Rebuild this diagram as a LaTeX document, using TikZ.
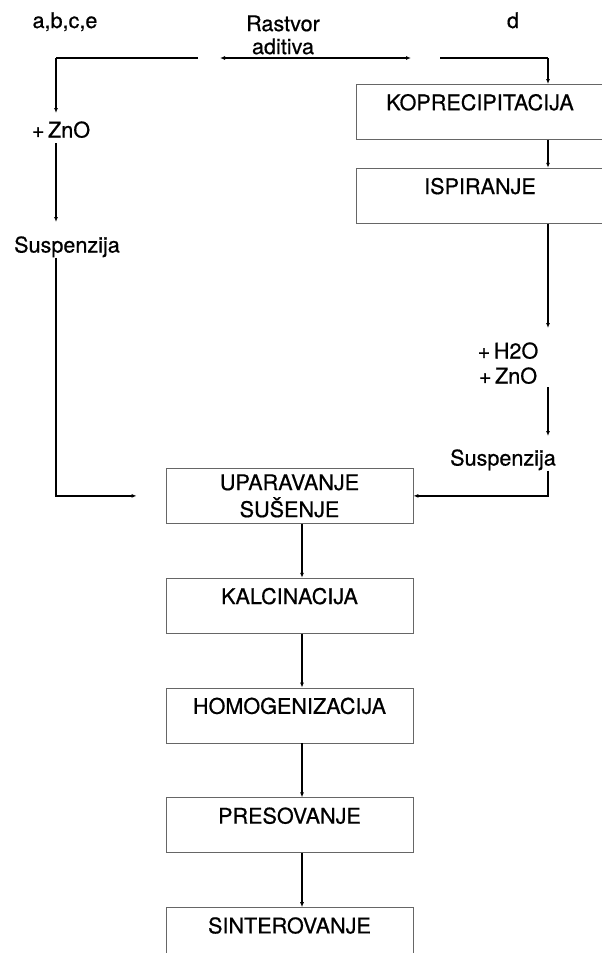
\documentclass[tikz,border=0pt]{standalone}
\usepackage{fontspec}
\setmainfont{TeX Gyre Heros}[FakeBold=0.6]
\usetikzlibrary{arrows.meta, positioning}
\tikzset{
    >={Latex[length=2.5pt, width=2pt]},
    font=\fontsize{10.8}{13.5}\selectfont,
    procbox/.style={draw=black!60, line width=0.4pt, minimum width=123.5pt,
        minimum height=27.5pt, inner sep=0pt, align=center},
    toptext/.style={procbox, text height=12.9pt, text depth=14.6pt},
    flowtext/.style={inner sep=0pt, align=center},
    link/.style={line width=0.7pt, ->}
}

\begin{document}
\begin{tikzpicture}[x=0.5pt, y=-0.5pt]
    % Frame of the page (pixel grid of the scan)
    \useasboundingbox (0,0) rectangle (601,953);

    % Coordinates
    \coordinate (lcol) at (56,58);
    \coordinate (lend) at (198,58);
    \coordinate (ra) at (220,58);
    \coordinate (rb) at (411,58);
    \coordinate (rbeg) at (440,58);
    \coordinate (rcol) at (548,58);
    \coordinate (ccol) at (302,0);

    % Top labels
    \node[flowtext, anchor=base] (abce) at (65,28) {a,b,c,e};
    \node[flowtext, anchor=north] (rast) at (283,15) {Rastvor\\[-2pt]aditiva};
    \node[flowtext, anchor=base] (dd) at (513,28) {d};

    % Right branch: coprecipitation
    \node[toptext, anchor=north] (kop) at (480,84) {KOPRECIPITACIJA};
    \node[toptext, below=14pt of kop] (isp) {ISPIRANJE};
    \node[flowtext, anchor=north] (addr) at (508,342) {+\,H2O\\[-1pt]+\,ZnO};
    \node[flowtext, anchor=north] (susp2) at (503,449) {Suspenzija};

    % Left branch
    \node[flowtext, anchor=north] (zno) at (61,121) {+\,ZnO};
    \node[flowtext, anchor=north] (susp1) at (67,236) {Suspenzija};

    % Common chain
    \node[procbox, anchor=north] (upar) at (289.5,468) {UPARAVANJE\\SUŠENJE};
    \node[toptext, below=27pt of upar] (kal) {KALCINACIJA};
    \node[toptext, below=27pt of kal] (hom) {HOMOGENIZACIJA};
    \node[toptext, below=27pt of hom] (pres) {PRESOVANJE};
    \node[toptext, below=27pt of pres] (sint) {SINTEROVANJE};

    % Additive solution goes both ways
    \draw[line width=0.7pt, <->] (ra) -- (rb);
    \draw[line width=0.7pt] (lend) -- (lcol);
    \draw[line width=0.7pt] (rbeg) -- (rcol);

    % Left branch arrows
    \draw[link, shorten >=4pt] (lcol) -- (lcol |- zno.north);
    \draw[link, shorten <=2.5pt, shorten >=7pt] (lcol |- zno.south) -- (lcol |- susp1.north);
    \draw[link, shorten >=14.5pt] (lcol |- susp1.south) |- (upar.west);

    % Right branch arrows
    \draw[link] (rcol) -- (rcol |- kop.north);
    \draw[link] (rcol |- kop.south) -- (rcol |- isp.north);
    \draw[link, shorten >=7pt] (rcol |- isp.south) -- (rcol |- addr.north);
    \draw[link, shorten <=1.5pt, shorten >=6.5pt] (rcol |- addr.south) -- (rcol |- susp2.north);
    \draw[link] (rcol |- susp2.south) |- (upar.east);

    % Chain arrows
    \foreach \a/\b in {upar/kal, kal/hom, hom/pres, pres/sint}
        \draw[link] (ccol |- \a.south) -- (ccol |- \b.north);
\end{tikzpicture}
\end{document}
